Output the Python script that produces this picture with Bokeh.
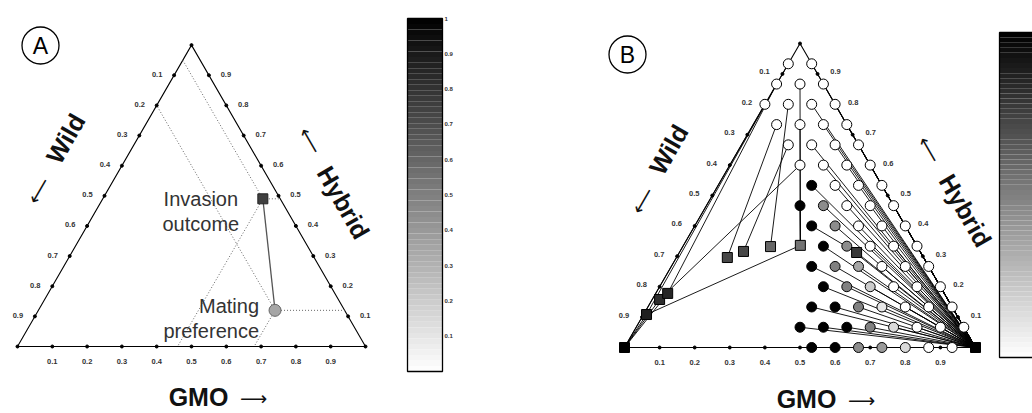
import numpy as np
from bokeh.plotting import figure
from bokeh.models import Range1d
from bokeh.layouts import row
from bokeh.core.properties import value
from bokeh.embed import file_html
from bokeh.resources import INLINE

# ---------------- data ----------------
tick_vals = [0.1, 0.2, 0.3, 0.4, 0.5, 0.6, 0.7, 0.8, 0.9]
tick_labels = ["0.1", "0.2", "0.3", "0.4", "0.5", "0.6", "0.7", "0.8", "0.9"]
cbar_ticks = [0.1, 0.2, 0.3, 0.4, 0.5, 0.6, 0.7, 0.8, 0.9, 1.0]
cbar_labels = ["0.1", "0.2", "0.3", "0.4", "0.5", "0.6", "0.7", "0.8", "0.9", "1"]

# Panel A: (wild, hybrid, gmo)
A_pref = (0.20, 0.12, 0.68)
A_outcome = (0.05, 0.49, 0.46)
A_pref_val = 0.35
A_outcome_val = 0.75

# Panel B: preference lattice (steps of 1/15): rows by hybrid index, gmo index ranges
B_steps = 15
B_row_h = list(range(15))
B_row_gstart = [8, 7, 7, 7, 6, 6, 5, 4, 4, 3, 2, 1, 0, 0, 0]
B_row_gend = [14, 14, 13, 12, 11, 10, 9, 8, 7, 6, 5, 4, 3, 2, 1]
B_row_vals = [
    [1, 1, 0.45, 0.4, 0.15, 0, 0],
    [1, 1, 1, 0.5, 0.15, 0, 0, 0],
    [1, 1, 0.5, 0.1, 0, 0, 0],
    [1, 0.5, 0.2, 0, 0, 0],
    [1, 0.5, 0.35, 0, 0, 0],
    [1, 0.45, 0, 0, 0],
    [1, 0.45, 0, 0, 0],
    [1, 0.45, 0, 0, 0],
    [1, 0, 0, 0],
    [0, 0, 0, 0],
    [0, 0, 0, 0],
    [0, 0, 0, 0],
    [0, 0, 0, 0],
    [0, 0, 0],
    [0, 0],
]
# invasion outcomes (squares): hybrid, gmo fractions
B_sq_names = ["W", "G", "L1", "L2", "L3", "S1", "S2", "S3", "S4", "S5"]
B_sq_h = [0.0, 0.0, 0.1085, 0.158, 0.178, 0.296, 0.316, 0.332, 0.336, 0.3125]
B_sq_g = [0.0, 1.0, 0.0085, 0.021, 0.034, 0.145, 0.181, 0.25, 0.333, 0.505]
B_sq_val = [1.0, 1.0, 0.88, 0.82, 0.85, 0.72, 0.72, 0.6, 0.55, 0.78]
# preference -> outcome links that do not go to the GMO corner
B_special_h = [14, 13, 12, 12, 11, 10, 13, 11, 9, 7, 6]
B_special_g = [0, 0, 0, 1, 1, 2, 1, 2, 3, 4, 5]
B_special_to = ["L1", "L3", "W", "S3", "S1", "S2", "S4", "S4", "L2", "S4", "S5"]
B_extra_from = ["S5", "S4", "W", "W", "W"]
B_extra_to = ["G", "L1", "L1", "L2", "L3"]

# ---------------- helpers ----------------
S3 = np.sqrt(3) / 2
FONT = value("Liberation Sans")
AFONT = value("DejaVu Sans")
FIG_H = 413


def tern(h, g):
    h = np.asarray(h, dtype=float)
    g = np.asarray(g, dtype=float)
    return g + h / 2, h * S3


def gray(v):
    c = int(round(255 * (1 - v)))
    return "#%02x%02x%02x" % (c, c, c)


def make_fig(width, bx, by, scale):
    xr = Range1d(-bx / scale, (width - bx) / scale)
    yr = Range1d(-(FIG_H - by) / scale, by / scale)
    p = figure(width=width, height=FIG_H, x_range=xr, y_range=yr,
               output_backend="svg", toolbar_location=None, min_border=0)
    p.axis.visible = False
    p.grid.visible = False
    p.outline_line_color = None
    p.background_fill_color = "white"
    p.border_fill_color = "white"
    return p


def frame(p, scale, ox=17, oy=1):
    cx, cy = tern([0, 0, 1, 0], [0, 1, 0, 0])
    p.line(cx, cy, line_color="black", line_width=1.1)
    t = np.array(tick_vals)
    bx, by = tern(np.zeros_like(t), t)
    lx, ly = tern(t, np.zeros_like(t))
    rx, ry = tern(t, 1 - t)
    p.scatter(np.concatenate([bx, lx, rx, cx[:3]]), np.concatenate([by, ly, ry, cy[:3]]),
              size=3, color="black")
    kw = dict(text_font=FONT, text_font_size="7.5px", text_font_style="bold",
              text_align="center", text_baseline="middle", text_color="#333")
    p.text(bx, by - 15 / scale, text=tick_labels, **kw)
    wl = np.array(tick_vals)
    lx2, ly2 = tern(1 - wl, np.zeros_like(wl))
    p.text(lx2 - ox / scale, ly2 + oy / scale, text=tick_labels, **kw)
    p.text(rx + ox / scale, ry + oy / scale, text=tick_labels, **kw)


def colorbar(p, x0, x1, y0, y1, scale, labels=True):
    n = 64
    edges = np.linspace(y0, y1, n + 1)
    vals = (np.arange(n) + 0.5) / n
    p.quad(left=x0, right=x1, bottom=edges[:-1], top=edges[1:],
           fill_color=[gray(v) for v in vals], line_color=None)
    p.quad(left=[x0], right=[x1], bottom=[y0], top=[y1], fill_color=None,
           line_color="black", line_width=1.3)
    if labels:
        ct = np.array(cbar_ticks)
        p.text(np.full(len(ct), x1 + 2 / scale), y0 + ct * (y1 - y0), text=cbar_labels,
               text_font=FONT, text_font_size="6px", text_font_style="bold",
               text_align="left", text_baseline="middle", text_color="#333")


def titles(p, s, letter, L, G, GA, W, WA, H, HA):
    # all positions are pixel offsets from the base-left corner of the triangle
    q = lambda pt: ([pt[0] / s], [pt[1] / s])
    x, y = q(L)
    p.scatter(x, y, size=37, marker="circle", fill_color=None,
              line_color="black", line_width=1.3)
    p.text(x, y, text=[letter], text_font=FONT, text_font_size="23px",
           text_align="center", text_baseline="middle", text_color="black")
    big = dict(text_font=FONT, text_font_size="25px", text_font_style="bold",
               text_align="center", text_baseline="middle", text_color="#111")
    arr = dict(text_font=AFONT, text_font_size="19px", text_align="center",
               text_baseline="middle", text_color="#111")
    x, y = q(G); p.text(x, y, text=["GMO"], **big)
    x, y = q(GA); p.text(x, y, text=["\u27f6"], **arr)
    x, y = q(W); p.text(x, y, text=["Wild"], angle=np.pi / 3, **big)
    x, y = q(WA); p.text(x, y, text=["\u27f5"], angle=np.pi / 3, **arr)
    x, y = q(H); p.text(x, y, text=["Hybrid"], angle=-np.pi / 3, **big)
    x, y = q(HA); p.text(x, y, text=["\u27f5"], angle=-np.pi / 3, **arr)


# ---------------- panel A ----------------
sA = 348.0
pA = make_fig(508, 17, 346, sA)
frame(pA, sA)

pw, ph, pg = A_pref
ow, oh, og = A_outcome
px, py = [float(v) for v in tern(ph, pg)]
qx, qy = [float(v) for v in tern(oh, og)]
for (w, h, g) in (A_pref, A_outcome):
    xx, yy = tern([h, h], [g, 1 - h])            # constant hybrid to right side
    pA.line(xx, yy, line_color="#666", line_dash="1 2", line_width=1)
    xx, yy = tern([h, 1 - w], [g, 0])            # constant wild to left side
    pA.line(xx, yy, line_color="#666", line_dash="1 2", line_width=1)
    xx, yy = tern([h, 0], [g, g])                # constant gmo to base
    pA.line(xx, yy, line_color="#666", line_dash="1 2", line_width=1)
pA.line([qx, px], [qy, py], line_color="#555", line_width=1.3)
pA.scatter([px], [py], size=12, marker="circle",
           fill_color=gray(A_pref_val), line_color="#666", line_width=1)
pA.scatter([qx], [qy], size=10, marker="square",
           fill_color=gray(A_outcome_val), line_color="#222", line_width=1)
pA.text([qx - 62 / sA] * 2, [qy, qy - 25 / sA],
        text=["Invasion", "outcome"], text_font=FONT, text_font_size="20px",
        text_align="center", text_baseline="middle", text_color="#333")
pA.text([px - 16 / sA] * 2, [py + 4 / sA, py - 21 / sA],
        text=["Mating", "preference"], text_font=FONT, text_font_size="20px",
        text_align="right", text_baseline="middle", text_color="#333")

colorbar(pA, (407 - 17) / sA, (442 - 17) / sA, (346 - 371) / sA, (346 - 18) / sA, sA)
titles(pA, sA, "A", (23, 301), (181, -50), (236, -51), (48, 208), (21, 156),
       (326, 144), (293, 206))

# ---------------- panel B ----------------
sB = 351.0
pB = make_fig(524, 116, 347, sB)
frame(pB, sB, ox=18, oy=2)

sq_pos = {}
for n, h, g in zip(B_sq_names, B_sq_h, B_sq_g):
    sq_pos[n] = tern(h, g)
special = {(h, g): t for h, g, t in zip(B_special_h, B_special_g, B_special_to)}

cx, cy, cc = [], [], []
x0s, y0s, x1s, y1s = [], [], [], []
for h, gs, ge, vals in zip(B_row_h, B_row_gstart, B_row_gend, B_row_vals):
    for g, v in zip(range(gs, ge + 1), vals):
        x, y = tern(h / B_steps, g / B_steps)
        cx.append(float(x)); cy.append(float(y)); cc.append(gray(v))
        tx, ty = sq_pos[special.get((h, g), "G")]
        x0s.append(float(x)); y0s.append(float(y)); x1s.append(float(tx)); y1s.append(float(ty))
for a, b in zip(B_extra_from, B_extra_to):
    x0s.append(float(sq_pos[a][0])); y0s.append(float(sq_pos[a][1]))
    x1s.append(float(sq_pos[b][0])); y1s.append(float(sq_pos[b][1]))

pB.segment(x0s, y0s, x1s, y1s, line_color="black", line_width=0.9)
pB.scatter(cx, cy, size=10, marker="circle", fill_color=cc, line_color="black", line_width=1)
sqx = [float(sq_pos[n][0]) for n in B_sq_names]
sqy = [float(sq_pos[n][1]) for n in B_sq_names]
pB.scatter(sqx, sqy, size=10, marker="square", fill_color=[gray(v) for v in B_sq_val],
           line_color="black", line_width=1)

colorbar(pB, (999 - 624) / sB, (1045 - 624) / sB, (347 - 357) / sB, (347 - 32) / sB, sB,
         labels=False)
titles(pB, sB, "B", (3, 293), (182, -51), (237, -52), (44, 198), (18, 147),
       (341, 137), (305, 198))

layout = row(pA, pB)
open("out.html", "w").write(file_html(layout, INLINE))
